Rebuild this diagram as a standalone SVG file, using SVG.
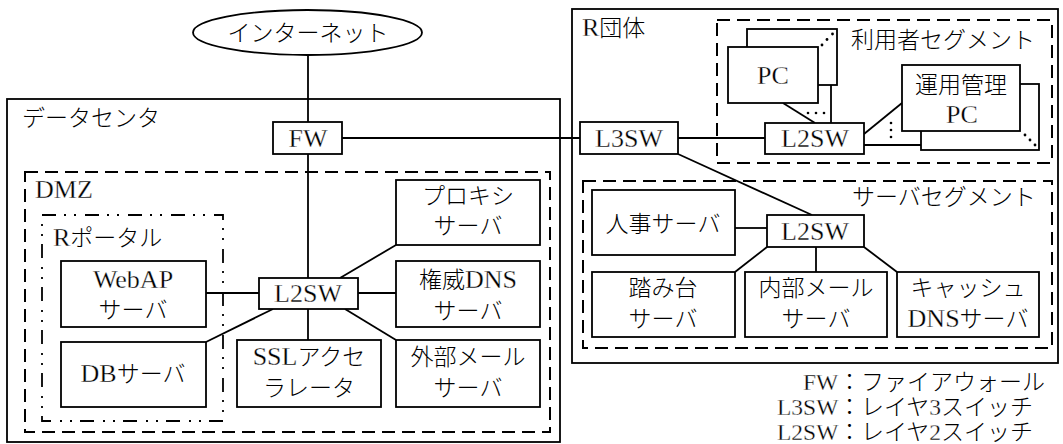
<svg xmlns="http://www.w3.org/2000/svg" width="1063" height="444" viewBox="0 0 1063 444">
<style>
.b{fill:#fff;stroke:#000;stroke-width:1.8}
.f{fill:none;stroke:#000;stroke-width:1.8}
.d{fill:none;stroke:#000;stroke-width:2;stroke-dasharray:13 7}
.dd{fill:none;stroke:#000;stroke-width:1.8;stroke-dasharray:14 8 2 8 2 9}
.c line{stroke:#000;stroke-width:1.8}
.t{font-family:"Liberation Serif","Noto Sans CJK JP",serif;font-size:23px;font-weight:300;fill:#000}
.m{text-anchor:middle}
.L{font-size:26px;font-weight:400;stroke:#fff;stroke-width:0.3px}
.dot{fill:#000}
</style>
<rect width="1063" height="444" fill="#fff"/>

<g id="datacenter">
<rect class="f" x="7" y="99" width="553" height="343"/>
<text class="t" x="22" y="126">データセンタ</text>
</g>
<g id="dmz">
<rect class="d" x="25" y="172" width="525" height="260"/>
<text class="t" x="35" y="198"><tspan class="L">DMZ</tspan></text>
</g>
<g id="rportal">
<rect class="dd" x="42" y="215" width="181" height="206"/>
<text class="t" x="53" y="246"><tspan class="L">R</tspan>ポータル</text>
</g>
<g id="rdantai">
<rect class="f" x="572" y="9" width="486" height="354"/>
<text class="t" x="582" y="36"><tspan class="L">R</tspan>団体</text>
</g>
<g id="userseg">
<rect class="d" x="717" y="20" width="335" height="143"/>
<text class="t" x="851" y="48">利用者セグメント</text>
</g>
<g id="serverseg">
<rect class="d" x="583" y="181" width="469" height="167"/>
<text class="t" x="852" y="205">サーバセグメント</text>
</g>

<g id="connectors" class="c">
<line x1="308" y1="55" x2="308" y2="122"/>
<line x1="308" y1="154" x2="308" y2="278"/>
<line x1="342" y1="138" x2="580" y2="138"/>
<line x1="678" y1="138" x2="765" y2="138"/>
<line x1="678" y1="154" x2="812" y2="215"/>
<line x1="783" y1="103" x2="815" y2="123"/>
<line x1="831" y1="85" x2="831" y2="123"/>
<line x1="864" y1="134" x2="902" y2="103"/>
<line x1="864" y1="145" x2="921" y2="145"/>
<line x1="735" y1="228" x2="767" y2="228"/>
<line x1="767" y1="247" x2="735" y2="272"/>
<line x1="816" y1="247" x2="816" y2="272"/>
<line x1="864" y1="247" x2="897" y2="272"/>
<line x1="206" y1="293" x2="259" y2="293"/>
<line x1="206" y1="342" x2="273" y2="309"/>
<line x1="308" y1="309" x2="308" y2="340"/>
<line x1="340" y1="278" x2="396" y2="245"/>
<line x1="358" y1="293" x2="396" y2="293"/>
<line x1="345" y1="309" x2="396" y2="340"/>
</g>

<g id="internet">
<ellipse class="b" cx="307.5" cy="32.5" rx="114.5" ry="22.5"/>
<text class="t m" x="308" y="41">インターネット</text>
</g>
<g id="fw">
<rect class="b" x="273" y="122" width="69" height="32"/>
<text class="t m" x="308" y="147"><tspan class="L">FW</tspan></text>
</g>
<g id="l3sw">
<rect class="b" x="580" y="122" width="98" height="32"/>
<text class="t m" x="629" y="147"><tspan class="L">L3SW</tspan></text>
</g>
<g id="pc">
<rect class="b" x="747" y="29" width="90" height="56"/>
<rect class="b" x="728" y="47" width="90" height="56"/>
<text class="t m" x="773" y="84"><tspan class="L">PC</tspan></text>
<circle class="dot" cx="822" cy="45" r="1.4"/>
<circle class="dot" cx="827" cy="39.5" r="1.4"/>
<circle class="dot" cx="832.5" cy="34" r="1.4"/>
<circle class="dot" cx="808" cy="113" r="1.3"/>
<circle class="dot" cx="816" cy="113" r="1.3"/>
<circle class="dot" cx="824" cy="113" r="1.3"/>
</g>
<g id="l2sw-user">
<rect class="b" x="765" y="123" width="99" height="31"/>
<text class="t m" x="815" y="147"><tspan class="L">L2SW</tspan></text>
</g>
<g id="opspc">
<rect class="b" x="921" y="84" width="118" height="66"/>
<rect class="b" x="902" y="65" width="118" height="66"/>
<text class="t m" x="961" y="93">運用管理</text>
<text class="t m" x="962" y="123"><tspan class="L">PC</tspan></text>
<circle class="dot" cx="1025" cy="135" r="1.4"/>
<circle class="dot" cx="1030" cy="140" r="1.4"/>
<circle class="dot" cx="1035" cy="145" r="1.4"/>
<circle class="dot" cx="891" cy="123" r="1.3"/>
<circle class="dot" cx="891" cy="130" r="1.3"/>
<circle class="dot" cx="891" cy="137" r="1.3"/>
</g>

<g id="jinji">
<rect class="b" x="592" y="190" width="143" height="65"/>
<text class="t m" x="663" y="232">人事サーバ</text>
</g>
<g id="l2sw-server">
<rect class="b" x="767" y="215" width="97" height="32"/>
<text class="t m" x="815" y="240"><tspan class="L">L2SW</tspan></text>
</g>
<g id="fumidai">
<rect class="b" x="592" y="272" width="143" height="65"/>
<text class="t m" x="663" y="296">踏み台</text>
<text class="t m" x="663" y="327">サーバ</text>
</g>
<g id="naibumail">
<rect class="b" x="745" y="272" width="142" height="65"/>
<text class="t m" x="816" y="296">内部メール</text>
<text class="t m" x="816" y="327">サーバ</text>
</g>
<g id="cachedns">
<rect class="b" x="897" y="272" width="142" height="65"/>
<text class="t m" x="968" y="296">キャッシュ</text>
<text class="t m" x="968" y="327"><tspan class="L">DNS</tspan>サーバ</text>
</g>

<g id="webap">
<rect class="b" x="61" y="261" width="145" height="66"/>
<text class="t m" x="133" y="288"><tspan class="L">WebAP</tspan></text>
<text class="t m" x="133" y="318">サーバ</text>
</g>
<g id="db">
<rect class="b" x="61" y="342" width="145" height="65"/>
<text class="t m" x="133" y="382"><tspan class="L">DB</tspan>サーバ</text>
</g>
<g id="l2sw-dmz">
<rect class="b" x="259" y="278" width="99" height="31"/>
<text class="t m" x="308" y="302"><tspan class="L">L2SW</tspan></text>
</g>
<g id="ssl">
<rect class="b" x="237" y="340" width="144" height="67"/>
<text class="t m" x="309" y="365"><tspan class="L">SSL</tspan>アクセ</text>
<text class="t m" x="309" y="396">ラレータ</text>
</g>
<g id="proxy">
<rect class="b" x="396" y="180" width="144" height="65"/>
<text class="t m" x="468" y="204">プロキシ</text>
<text class="t m" x="468" y="234">サーバ</text>
</g>
<g id="authdns">
<rect class="b" x="396" y="261" width="144" height="66"/>
<text class="t m" x="468" y="288">権威<tspan class="L">DNS</tspan></text>
<text class="t m" x="468" y="319">サーバ</text>
</g>
<g id="gaibumail">
<rect class="b" x="396" y="340" width="144" height="67"/>
<text class="t m" x="468" y="365">外部メール</text>
<text class="t m" x="468" y="396">サーバ</text>
</g>

<g id="legend">
<text class="t" y="390"><tspan x="803" class="L" style="font-size:23.5px">FW</tspan><tspan x="838">：ファイアウォール</tspan></text>
<text class="t" y="415"><tspan x="777" class="L" style="font-size:23.5px">L3SW</tspan><tspan x="838">：レイヤ<tspan class="L" style="font-size:23.5px">3</tspan>スイッチ</tspan></text>
<text class="t" y="440"><tspan x="777" class="L" style="font-size:23.5px">L2SW</tspan><tspan x="838">：レイヤ<tspan class="L" style="font-size:23.5px">2</tspan>スイッチ</tspan></text>
</g>
</svg>
